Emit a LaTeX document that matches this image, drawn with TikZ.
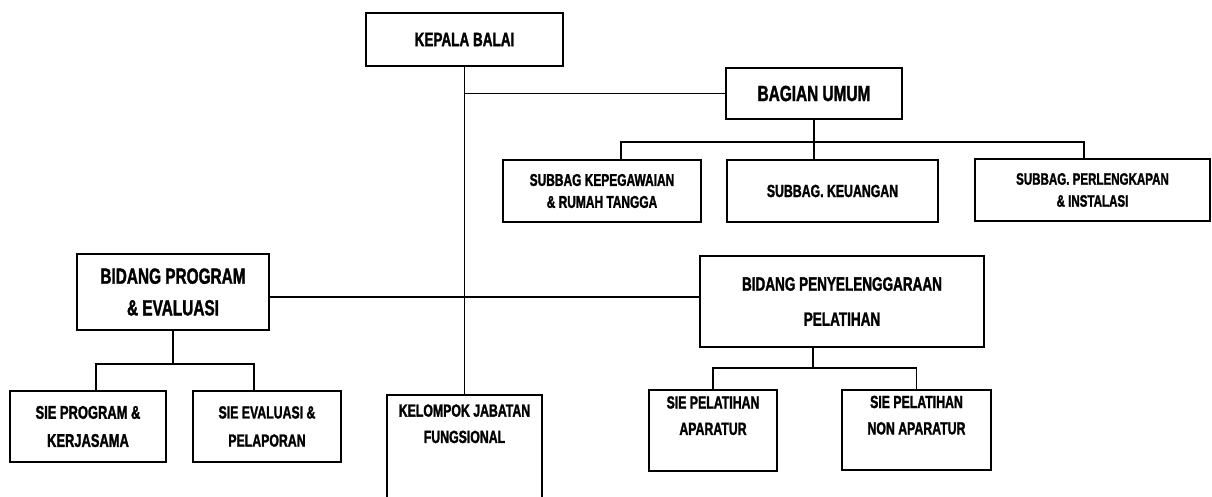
\documentclass[tikz,border=0pt]{standalone}
\usepackage{fontspec}
\setmainfont{Liberation Sans}[FakeStretch=0.7, BoldFeatures={FakeBold=1.5}]
\usetikzlibrary{positioning}
\begin{document}
\begin{tikzpicture}[
  orgbox/.style={draw, line width=1.2pt, align=center, inner sep=0pt, font=\bfseries\fontsize{10}{15}\selectfont},
  conn/.style={line width=1.1pt}]
\useasboundingbox (0,0) rectangle (24.24,-9.94);
% pimpinan
\node[orgbox, minimum width=3.94cm, minimum height=1.06cm, font=\bfseries\fontsize{11}{13}\selectfont] (kepala) at (9.29,-0.79) {KEPALA BALAI};
\node[orgbox, minimum width=3.52cm, minimum height=1.02cm, font=\bfseries\fontsize{12.5}{14}\selectfont] (umum) at (16.28,-1.87) {BAGIAN UMUM};

% subbag
\node[orgbox, minimum width=3.96cm, minimum height=1.24cm, font=\bfseries\fontsize{9.7}{12.5}\selectfont] (kepeg) at (12.04,-3.82) {SUBBAG KEPEGAWAIAN\\\& RUMAH TANGGA};
\node[orgbox, minimum width=4.22cm, minimum height=1.24cm] (keu) at (16.65,-3.82) {SUBBAG. KEUANGAN};
\node[orgbox, minimum width=4.70cm, minimum height=1.24cm, font=\bfseries\fontsize{9.4}{12.5}\selectfont] (perl) at (21.85,-3.80) {SUBBAG. PERLENGKAPAN\\\& INSTALASI};

% bidang
\node[orgbox, minimum width=3.84cm, minimum height=1.52cm, font=\bfseries\fontsize{12.5}{18}\selectfont] (bprog) at (3.46,-5.84) {BIDANG PROGRAM\\\& EVALUASI};
\node[orgbox, minimum width=5.68cm, minimum height=1.82cm, font=\bfseries\fontsize{11}{20}\selectfont] (bpel) at (16.84,-6.03) {BIDANG PENYELENGGARAAN\\PELATIHAN};

% sie
\node[orgbox, minimum width=3.12cm, minimum height=1.42cm, font=\bfseries\fontsize{10.5}{16}\selectfont] (sieprog) at (1.76,-8.53) {SIE PROGRAM \&\\KERJASAMA};
\node[orgbox, minimum width=2.96cm, minimum height=1.42cm, font=\bfseries\fontsize{10}{16}\selectfont] (sieeval) at (5.34,-8.53) {SIE EVALUASI \&\\PELAPORAN};
\node[orgbox, minimum width=2.56cm, minimum height=1.62cm] (apar) at (14.26,-8.61) {SIE PELATIHAN\\APARATUR\\[2pt]};
\node[orgbox, minimum width=2.98cm, minimum height=1.60cm] (nonapar) at (18.33,-8.60) {SIE PELATIHAN\\NON APARATUR\\[2pt]};

% fungsional
\node[orgbox, anchor=north, minimum width=3.10cm, minimum height=2.40cm] (kjf) at (9.29,-7.88) {};
\node[font=\bfseries\fontsize{10}{15}\selectfont, align=center, inner sep=0pt, below=0.2cm of kjf.north] (kjftext) {KELOMPOK JABATAN\\FUNGSIONAL};

% garis
\draw[conn] (kepala.south) -- (kjf.north);
\draw[conn] (kepala.south |- umum.west) -- (umum.west);
\draw[conn] ([yshift=-0.1cm]bprog.east) -- ([yshift=-0.1cm]bprog.east -| bpel.west);

\coordinate (umumbus) at ([yshift=-0.44cm]umum.south);
\draw[conn] (umum.south) -- (umum.south |- keu.north);
\draw[conn] ([xshift=0.38cm]kepeg.north) |- (umumbus) -| ([xshift=-0.17cm]perl.north);

\coordinate (progbus) at ([yshift=-0.66cm]bprog.south);
\draw[conn] (bprog.south) -- (progbus);
\draw[conn] ([xshift=0.16cm]sieprog.north) |- (progbus) -| ([xshift=-0.26cm]sieeval.north);

\coordinate (pelbus) at ([xshift=-0.58cm,yshift=-0.40cm]bpel.south);
\draw[conn] ([xshift=-0.58cm]bpel.south) -- (pelbus);
\draw[conn] (apar.north) |- (pelbus) -| (nonapar.north);
\end{tikzpicture}
\end{document}
